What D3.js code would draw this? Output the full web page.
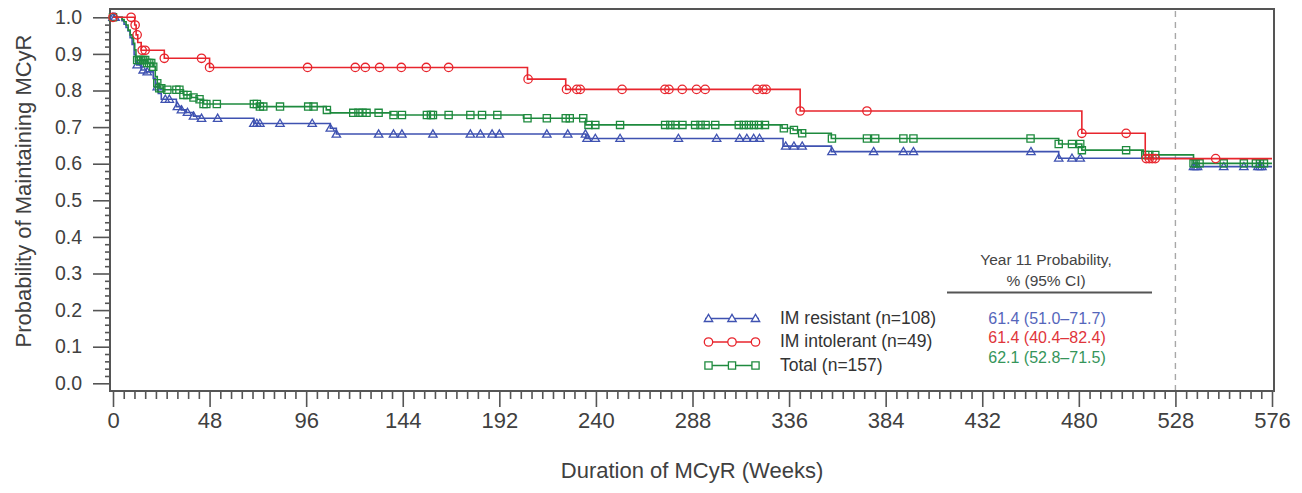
<!DOCTYPE html>
<html>
<head>
<meta charset="utf-8">
<script src="https://cdn.jsdelivr.net/npm/d3@7"></script>
<style>
  html, body { margin: 0; padding: 0; background: #ffffff; }
  svg { display: block; }
  text { font-family: "Liberation Sans", Arial, Helvetica, sans-serif; }
</style>
</head>
<body>
<svg id="chart" width="1302" height="493"></svg>
<script>
// Axis ticks
const weekTicks = [0, 48, 96, 144, 192, 240, 288, 336, 384, 432, 480, 528, 576];
const probTicks = [0.0, 0.1, 0.2, 0.3, 0.4, 0.5, 0.6, 0.7, 0.8, 0.9, 1.0];

// Kaplan-Meier steps: [week, probability from that week on]
const resistantSteps = [
  [0, 1.0], [4.5, 0.991], [5.5, 0.981], [6.5, 0.972], [7.5, 0.963], [8.5, 0.944],
  [9.5, 0.926], [10.5, 0.898], [11.2, 0.880], [11.8, 0.870], [14, 0.856], [16.5, 0.851],
  [20, 0.833], [21, 0.810], [22.5, 0.792], [24, 0.776], [31.5, 0.756], [34, 0.747],
  [36.5, 0.740], [40, 0.730], [43, 0.724], [70, 0.710], [108, 0.697], [111, 0.681],
  [235, 0.669], [333, 0.648], [357, 0.633], [470, 0.615], [537, 0.592]
];
const intolerantSteps = [
  [0, 1.0], [10.8, 0.979], [11.5, 0.952], [12.3, 0.931], [14, 0.910], [25.5, 0.888],
  [48, 0.863], [206, 0.831], [225, 0.803], [341.5, 0.744], [481.5, 0.683], [513, 0.614]
];
const totalSteps = [
  [0, 1.0], [4.5, 0.994], [5.5, 0.988], [6.5, 0.979], [7.5, 0.965], [8.5, 0.952],
  [9.5, 0.943], [10.2, 0.929], [10.8, 0.911], [11.4, 0.892], [12, 0.883], [17, 0.875],
  [20, 0.865], [21, 0.838], [22, 0.820], [23, 0.806], [25, 0.802], [35, 0.788],
  [39, 0.781], [42, 0.776], [45, 0.763], [72, 0.756], [106, 0.747], [108, 0.739],
  [138, 0.733], [204, 0.724], [235, 0.706], [332.5, 0.697], [338, 0.692], [342, 0.683],
  [357, 0.669], [470, 0.654], [481.5, 0.637], [512, 0.624], [537, 0.601]
];

// Censored observations (weeks)
const resistantCensor = [
  0, 1, 12, 15, 17, 22, 26, 28, 32, 34, 37, 40, 44, 52, 70, 71.5, 73, 83, 99, 108, 111,
  132, 139.4, 143.6, 159, 177.6, 182.6, 188.4, 192, 215.6, 226, 234.8, 235.6, 239.7, 252,
  281, 300, 311.4, 315, 318.4, 321.3, 334.3, 338.4, 342.5, 357.3, 378, 392.8, 397.8,
  456.2, 470, 476.6, 480.7, 537, 538, 539, 552, 562, 569, 570, 571
];
const intolerantCensor = [
  0, 9, 11, 12, 14.5, 16, 25.5, 44, 48, 96.7, 120.4, 125.4, 132.5, 143.3, 155.7, 166.8,
  206.3, 225.4, 230.5, 232.2, 253, 274.3, 276.3, 282.9, 290, 294.3, 320, 323, 324.6,
  341.5, 374.7, 481.5, 503.5, 513.5, 515, 516.5, 518, 548
];
const totalCensor = [
  0, 12, 13, 14, 15, 16, 17, 18, 19, 20, 22, 23, 24, 27, 31.5, 33, 35, 37, 40, 43, 45,
  46.4, 51.6, 70, 71.5, 73, 74.7, 83, 97, 99.7, 106.3, 119.4, 122, 124, 126, 132, 139.4,
  143.6, 156, 158, 159, 166.8, 177.6, 183.4, 191, 206, 215.6, 225, 227, 233.7, 236.3,
  239.7, 252, 274.4, 277, 279.5, 283, 289.3, 292, 294.5, 299.3, 311, 313.5, 316, 318.5,
  321, 324, 333.4, 338.4, 342.5, 357.3, 374.7, 378.8, 392.8, 397.8, 456, 470, 476.6,
  480.7, 481.5, 503.5, 513, 515, 518, 537, 538, 540, 552, 562, 568, 570, 572
];

// Legend and year-11 table text
const seriesLabels = ["IM resistant (n=108)", "IM intolerant (n=49)", "Total (n=157)"];
const year11Values = ["61.4 (51.0\u201371.7)", "61.4 (40.4\u201382.4)", "62.1 (52.8\u201371.5)"];
const tableHeader = ["Year 11 Probability,", "% (95% CI)"];
const referenceWeek = 528;
const lastWeek = 576;

const series = [
  { steps: resistantSteps, censor: resistantCensor, color: "#3f52b1", text: "#5566bb", shape: "triangle" },
  { steps: totalSteps, censor: totalCensor, color: "#1e8a3e", text: "#35955a", shape: "square" },
  { steps: intolerantSteps, censor: intolerantCensor, color: "#e8252d", text: "#e0353b", shape: "circle" }
];
// legend / table order
const legendOrder = [0, 2, 1];

const svg = d3.select("#chart");

const x = d3.scaleLinear().domain([0, 576]).range([113, 1272]);
const y = d3.scaleLinear().domain([0, 1]).range([383.3, 17.3]);

const frame = { left: 110, top: 9, right: 1274, bottom: 391 };
const axisColor = "#555";
const textColor = "#404040";

// reference line
svg.append("line")
  .attr("x1", x(referenceWeek)).attr("x2", x(referenceWeek))
  .attr("y1", frame.top + 2).attr("y2", frame.bottom - 1)
  .attr("stroke", "#a8a8a8").attr("stroke-width", 1.4)
  .attr("stroke-dasharray", "6,5");

// y axis: major and minor ticks
const yMinor = d3.range(0, 101, 2).map(v => v / 100).filter(v => Math.round(v * 100) % 10 !== 0);
const yAxisMinor = svg.append("g")
  .attr("transform", `translate(${frame.left},0)`)
  .call(d3.axisLeft(y).tickValues(yMinor).tickSize(5).tickFormat(""));
const yAxis = svg.append("g")
  .attr("transform", `translate(${frame.left},0)`)
  .call(d3.axisLeft(y).tickValues(probTicks).tickSize(17).tickPadding(11).tickFormat(d3.format(".1f")));

// x axis: major and minor ticks
const xMinor = [];
for (let i = 0; i < weekTicks.length - 1; i++) {
  for (let k = 1; k < 9; k++) xMinor.push(weekTicks[i] + k * 48 / 9);
}
const xAxisMinor = svg.append("g")
  .attr("transform", `translate(0,${frame.bottom})`)
  .call(d3.axisBottom(x).tickValues(xMinor).tickSize(8).tickFormat(""));
const xAxis = svg.append("g")
  .attr("transform", `translate(0,${frame.bottom})`)
  .call(d3.axisBottom(x).tickValues(weekTicks).tickSize(16).tickPadding(5).tickFormat(d3.format("d")));

[yAxisMinor, yAxis, xAxisMinor, xAxis].forEach(g => {
  g.select(".domain").remove();
  g.selectAll(".tick line").attr("stroke", axisColor).attr("stroke-width", 1.6);
});
yAxis.selectAll(".tick text").style("font-size", "19.5px").style("fill", textColor);
xAxis.selectAll(".tick text").style("font-size", "22px").style("fill", textColor);

// plot frame
svg.append("rect")
  .attr("x", frame.left).attr("y", frame.top)
  .attr("width", frame.right - frame.left).attr("height", frame.bottom - frame.top)
  .attr("fill", "none").attr("stroke", axisColor).attr("stroke-width", 2);

// axis titles
svg.append("text")
  .attr("transform", "translate(31,191) rotate(-90)")
  .attr("text-anchor", "middle")
  .style("font-size", "22px")
  .style("fill", textColor)
  .text("Probability of Maintaining MCyR");
svg.append("text")
  .attr("x", 692).attr("y", 478)
  .attr("text-anchor", "middle")
  .style("font-size", "22px")
  .style("fill", textColor)
  .text("Duration of MCyR (Weeks)");

// marker shapes
function markerPath(shape) {
  if (shape === "triangle") return "M0,-4.2L4.2,3L-4.2,3Z";
  if (shape === "square") return "M-3.6,-3.6H3.6V3.6H-3.6Z";
  const r = 4.2;
  return `M${r},0A${r},${r} 0 1,1 ${-r},0A${r},${r} 0 1,1 ${r},0Z`;
}

function survivalAt(steps, t) {
  let v = steps[0][1];
  for (const s of steps) { if (s[0] <= t) v = s[1]; else break; }
  return v;
}

const line = d3.line()
  .x(d => x(d[0]))
  .y(d => y(d[1]))
  .curve(d3.curveStepAfter);

const plot = svg.append("g");
series.forEach(s => {
  const pts = s.steps.concat([[lastWeek, s.steps[s.steps.length - 1][1]]]);
  plot.append("path")
    .attr("d", line(pts))
    .attr("fill", "none")
    .attr("stroke", s.color)
    .attr("stroke-width", 1.6);
  plot.append("g").selectAll("path")
    .data(s.censor)
    .join("path")
    .attr("transform", d => `translate(${x(d)},${y(survivalAt(s.steps, d))})`)
    .attr("d", markerPath(s.shape))
    .attr("fill", "none")
    .attr("stroke", s.color)
    .attr("stroke-width", 1.3);
});

// legend
const legend = svg.append("g");
legendOrder.forEach((si, i) => {
  const s = series[si];
  const ly = 318.5 + i * 23.5;
  legend.append("line")
    .attr("x1", 705).attr("x2", 759).attr("y1", ly).attr("y2", ly)
    .attr("stroke", s.color).attr("stroke-width", 1.6);
  [708.5, 732, 755.5].forEach(mx => {
    legend.append("path")
      .attr("transform", `translate(${mx},${ly})`)
      .attr("d", markerPath(s.shape))
      .attr("fill", "#fff")
      .attr("stroke", s.color)
      .attr("stroke-width", 1.3);
  });
  legend.append("text")
    .attr("x", 780).attr("y", ly + 5)
    .style("font-size", "17.5px")
    .style("fill", "#333")
    .text(seriesLabels[i]);
});

// year-11 probability table
const table = svg.append("g");
tableHeader.forEach((t, i) => {
  table.append("text")
    .attr("x", 1046).attr("y", 265 + i * 21)
    .attr("text-anchor", "middle")
    .style("font-size", "15.5px")
    .style("fill", "#444")
    .text(t);
});
table.append("line")
  .attr("x1", 947).attr("x2", 1152).attr("y1", 292.5).attr("y2", 292.5)
  .attr("stroke", "#555").attr("stroke-width", 2);
legendOrder.forEach((si, i) => {
  table.append("text")
    .attr("x", 1047).attr("y", 323.5 + i * 19.5)
    .attr("text-anchor", "middle")
    .style("font-size", "16px")
    .style("fill", series[si].text)
    .text(year11Values[i]);
});
</script>
</body>
</html>
